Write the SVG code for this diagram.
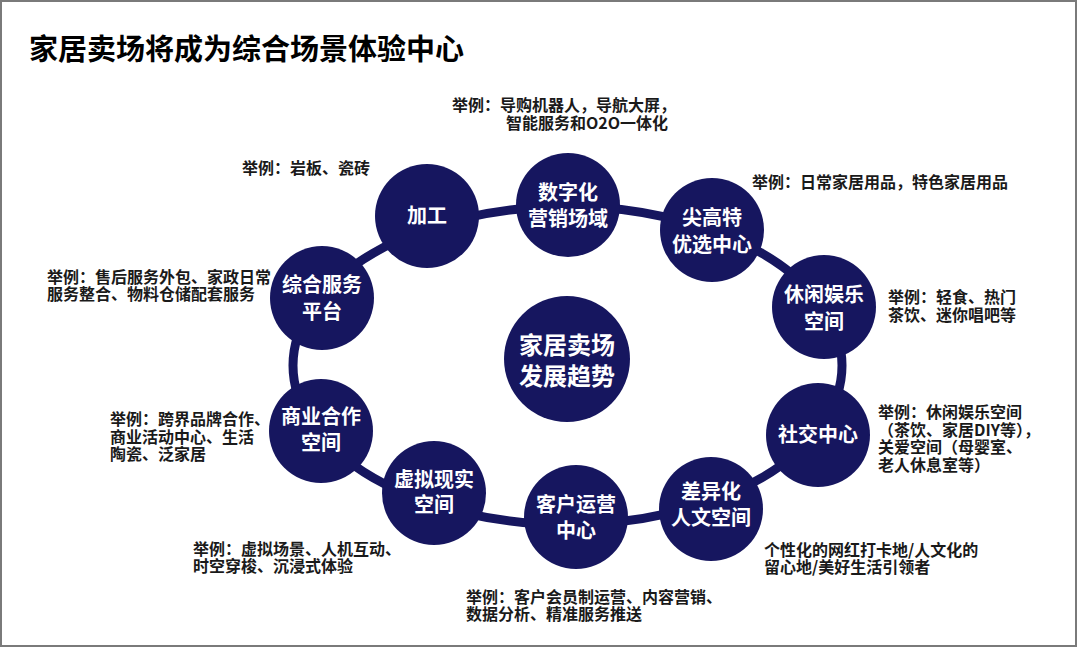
<svg xmlns="http://www.w3.org/2000/svg" width="1080" height="648" viewBox="0 0 1080 648">
  <style>
    .node { fill: #16165f; }
    .nt { fill: #ffffff; font-family: "Noto Sans CJK SC", "Noto Sans", sans-serif; font-size: 20px; font-weight: bold; text-anchor: middle; }
    .ct { fill: #ffffff; font-family: "Noto Sans CJK SC", "Noto Sans", sans-serif; font-size: 24px; font-weight: bold; text-anchor: middle; }
    .note { fill: #1a1a1a; font-family: "Noto Sans CJK SC", "Noto Sans", sans-serif; font-size: 16px; font-weight: bold; }
    .title { fill: #000000; font-family: "Noto Sans CJK SC", "Noto Sans", sans-serif; font-size: 29px; font-weight: bold; }
    .ring { fill: none; stroke: #16165f; stroke-width: 9; }
  </style>
  <rect x="0" y="0" width="1080" height="648" fill="#ffffff"/>
  <rect x="1" y="1" width="1075" height="645" fill="none" stroke="#7a7a7a" stroke-width="2"/>
  <text class="title" x="29" y="60">家居卖场将成为综合场景体验中心</text>

  <g id="connectors">
    <ellipse class="ring" cx="567.5" cy="365.5" rx="274.5" ry="159"/>
  </g>

  <g id="center">
    <circle class="node" cx="567" cy="359" r="63"/>
    <text class="ct" x="567" y="354">家居卖场</text>
    <text class="ct" x="567" y="385">发展趋势</text>
  </g>

  <g id="n-jiagong">
    <circle class="node" cx="427" cy="216" r="52"/>
    <text class="nt" x="427" y="223">加工</text>
  </g>
  <g id="n-shuzihua">
    <circle class="node" cx="568" cy="205" r="52"/>
    <text class="nt" x="568" y="200">数字化</text>
    <text class="nt" x="568" y="226">营销场域</text>
  </g>
  <g id="n-jiangaote">
    <circle class="node" cx="712" cy="230" r="52"/>
    <text class="nt" x="712" y="225">尖高特</text>
    <text class="nt" x="712" y="252">优选中心</text>
  </g>
  <g id="n-xiuxian">
    <circle class="node" cx="824" cy="307" r="52"/>
    <text class="nt" x="824" y="302">休闲娱乐</text>
    <text class="nt" x="824" y="329">空间</text>
  </g>
  <g id="n-shejiao">
    <circle class="node" cx="818" cy="435" r="52"/>
    <text class="nt" x="818" y="442">社交中心</text>
  </g>
  <g id="n-chayihua">
    <circle class="node" cx="711" cy="509" r="52"/>
    <text class="nt" x="711" y="499">差异化</text>
    <text class="nt" x="711" y="525">人文空间</text>
  </g>
  <g id="n-kehu">
    <circle class="node" cx="576" cy="517" r="52"/>
    <text class="nt" x="576" y="512">客户运营</text>
    <text class="nt" x="576" y="538">中心</text>
  </g>
  <g id="n-xuni">
    <circle class="node" cx="434" cy="493" r="52"/>
    <text class="nt" x="434" y="487">虚拟现实</text>
    <text class="nt" x="434" y="512">空间</text>
  </g>
  <g id="n-shangye">
    <circle class="node" cx="321" cy="431" r="52"/>
    <text class="nt" x="321" y="424">商业合作</text>
    <text class="nt" x="321" y="450">空间</text>
  </g>
  <g id="n-zonghe">
    <circle class="node" cx="322" cy="298" r="52"/>
    <text class="nt" x="322" y="292">综合服务</text>
    <text class="nt" x="322" y="319">平台</text>
  </g>

  <g id="notes">
    <text class="note" x="452" y="111">举例：导购机器人，导航大屏，</text>
    <text class="note" x="668" y="129" text-anchor="end">智能服务和O2O一体化</text>
    <text class="note" x="752" y="188">举例：日常家居用品，特色家居用品</text>
    <text class="note" x="888" y="303">举例：轻食、热门</text>
    <text class="note" x="888" y="321">茶饮、迷你唱吧等</text>
    <text class="note" x="878" y="418">举例：休闲娱乐空间</text>
    <text class="note" x="878" y="436">（茶饮、家居DIY等），</text>
    <text class="note" x="878" y="453">关爱空间（母婴室、</text>
    <text class="note" x="878" y="471">老人休息室等）</text>
    <text class="note" x="764" y="556">个性化的网红打卡地/人文化的</text>
    <text class="note" x="764" y="573">留心地/美好生活引领者</text>
    <text class="note" x="466" y="603">举例：客户会员制运营、内容营销、</text>
    <text class="note" x="466" y="620">数据分析、精准服务推送</text>
    <text class="note" x="193" y="555">举例：虚拟场景、人机互动、</text>
    <text class="note" x="193" y="572">时空穿梭、沉浸式体验</text>
    <text class="note" x="110" y="425">举例：跨界品牌合作、</text>
    <text class="note" x="110" y="443">商业活动中心、生活</text>
    <text class="note" x="110" y="460">陶瓷、泛家居</text>
    <text class="note" x="47" y="283">举例：售后服务外包、家政日常</text>
    <text class="note" x="47" y="300">服务整合、物料仓储配套服务</text>
    <text class="note" x="242" y="174">举例：岩板、瓷砖</text>
  </g>
</svg>
